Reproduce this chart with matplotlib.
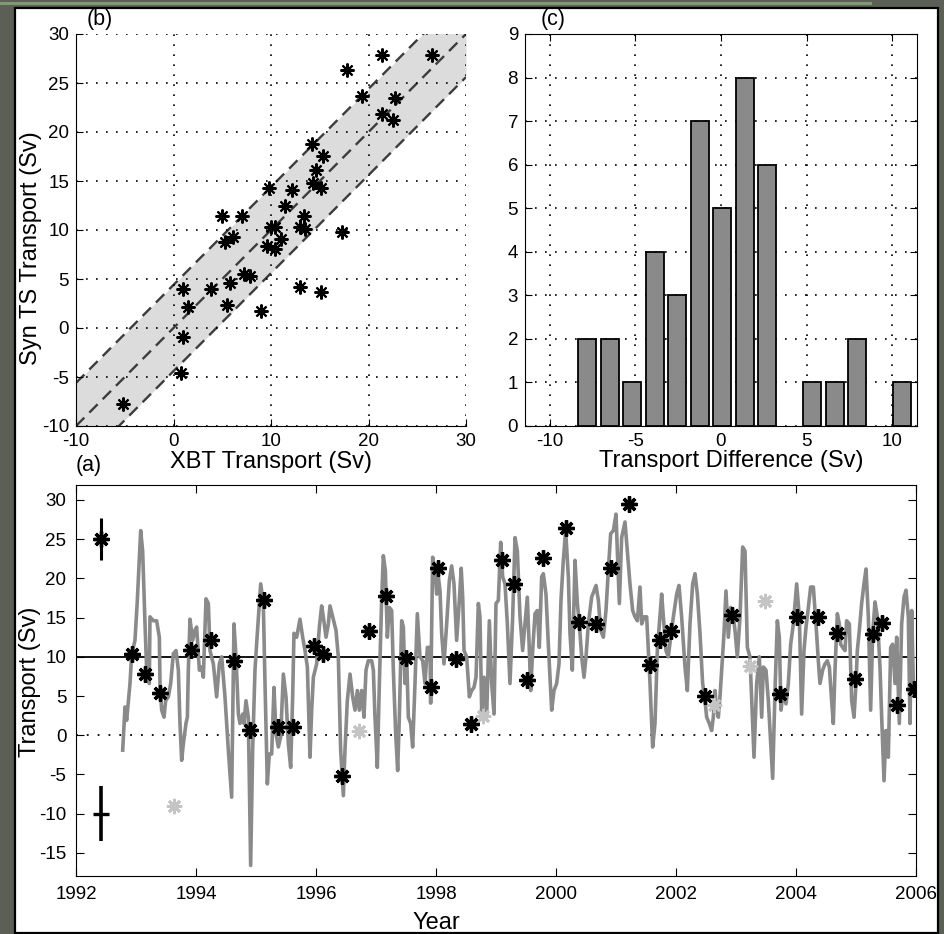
import matplotlib
matplotlib.use("Agg")
import matplotlib.pyplot as plt
from matplotlib.patches import Rectangle
from matplotlib.lines import Line2D
import numpy as np

plt.rcParams['font.family'] = ['Liberation Sans', 'DejaVu Sans']
plt.rcParams['axes.unicode_minus'] = False

# ---------------- data ----------------
# panel (b): XBT vs synthetic TS transport (Sv)
xbt = [-5.2, 0.77, 0.94, 1.45, 1.0, 3.8, 5.45, 5.8, 7.27, 7.85, 9.0, 4.97, 7.03,
       5.3, 6.14, 9.83, 9.56, 9.97, 10.4, 10.44, 11.0, 11.47, 12.2, 12.94, 13.0,
       13.4, 13.45, 14.17, 14.6, 14.34, 15.1, 15.37, 15.1, 17.3, 17.83, 19.37,
       21.35, 21.4, 22.55, 22.7, 26.55]
syn = [-7.8, -4.6, -0.9, 2.1, 4.0, 4.0, 2.3, 4.55, 5.5, 5.3, 1.75, 11.4, 11.4,
       8.75, 9.25, 14.25, 8.4, 10.3, 10.3, 8.1, 9.1, 12.5, 14.05, 4.2, 10.3,
       11.4, 10.1, 18.8, 16.1, 14.8, 14.25, 17.55, 3.7, 9.8, 26.3, 23.7,
       27.85, 21.8, 21.2, 23.5, 27.85]
band_halfwidth = 4.4

# panel (c): histogram of transport differences
bin_centers = [-7.82, -6.51, -5.19, -3.88, -2.56, -1.25, 0.07, 1.38, 2.70,
               4.01, 5.33, 6.64, 7.96, 9.27, 10.59]
counts = [2, 2, 1, 4, 3, 7, 5, 8, 6, 0, 1, 1, 2, 0, 1]

# panel (a): synthetic transport time series
ts_year = [1992.778, 1992.817, 1992.844, 1992.900, 1992.928, 1992.983, 1993.022, 1993.078,
           1993.111, 1993.150, 1993.178, 1993.222, 1993.233, 1993.289, 1993.344, 1993.389,
           1993.400, 1993.428, 1993.467, 1993.494, 1993.539, 1993.578, 1993.622, 1993.667,
           1993.706, 1993.733, 1993.761, 1993.789, 1993.833, 1993.856, 1993.872, 1993.900,
           1993.944, 1993.983, 1994.011, 1994.056, 1994.094, 1994.122, 1994.167, 1994.206,
           1994.233, 1994.289, 1994.344, 1994.389,
           1994.428, 1994.483, 1994.539, 1994.594, 1994.633, 1994.667, 1994.706, 1994.733,
           1994.778, 1994.800, 1994.833, 1994.872, 1994.911, 1994.944, 1994.983, 1995.022,
           1995.078, 1995.122, 1995.150, 1995.189, 1995.222, 1995.261, 1995.300, 1995.333,
           1995.372, 1995.411, 1995.456, 1995.500, 1995.539, 1995.578, 1995.611, 1995.633,
           1995.678, 1995.733, 1995.778, 1995.817, 1995.856, 1995.900, 1995.928, 1995.956,
           1996.011, 1996.056, 1996.094, 1996.122, 1996.167, 1996.206, 1996.233, 1996.278,
           1996.333, 1996.372, 1996.411, 1996.456,
           1996.483, 1996.522, 1996.567, 1996.611, 1996.650, 1996.689, 1996.722, 1996.761,
           1996.800, 1996.833, 1996.872, 1996.928, 1996.956, 1996.983, 1997.022, 1997.056,
           1997.094, 1997.122, 1997.156, 1997.189, 1997.222, 1997.261, 1997.289, 1997.328,
           1997.361, 1997.389, 1997.428, 1997.456, 1997.483, 1997.511, 1997.539, 1997.578,
           1997.611, 1997.650, 1997.689, 1997.733, 1997.778, 1997.817, 1997.856, 1997.900,
           1997.911, 1997.944, 1997.983, 1998.011, 1998.039, 1998.067, 1998.094, 1998.133,
           1998.178, 1998.222, 1998.261, 1998.300, 1998.344, 1998.389, 1998.420, 1998.445,
           1998.467, 1998.511, 1998.556, 1998.594, 1998.633, 1998.667, 1998.706, 1998.733,
           1998.761, 1998.800, 1998.844, 1998.889, 1998.928, 1998.967, 1999.000, 1999.039,
           1999.078, 1999.111, 1999.150, 1999.189, 1999.233, 1999.278, 1999.317, 1999.356,
           1999.400, 1999.444, 1999.483, 1999.522, 1999.556, 1999.578, 1999.611, 1999.650,
           1999.689, 1999.722, 1999.761, 1999.789, 1999.833, 1999.872, 1999.928, 1999.967,
           2000.011, 2000.050, 2000.083, 2000.122, 2000.161, 2000.206, 2000.233, 2000.272,
           2000.317, 2000.356, 2000.389, 2000.428, 2000.467,
           2000.500, 2000.539, 2000.594, 2000.667, 2000.706, 2000.744, 2000.789, 2000.833,
           2000.872, 2000.911, 2000.956, 2001.000, 2001.022, 2001.056, 2001.094, 2001.150,
           2001.189, 2001.233, 2001.278, 2001.317, 2001.356, 2001.400, 2001.428, 2001.467,
           2001.511, 2001.539, 2001.567, 2001.611, 2001.650, 2001.689, 2001.733, 2001.761,
           2001.789, 2001.833, 2001.872, 2001.911, 2001.956, 2002.011, 2002.050, 2002.094,
           2002.150, 2002.189, 2002.233, 2002.278, 2002.317, 2002.356, 2002.400, 2002.444,
           2002.483,
           2002.511, 2002.556, 2002.594, 2002.622, 2002.650, 2002.678, 2002.706, 2002.733,
           2002.761, 2002.800, 2002.833, 2002.872, 2002.911, 2002.944, 2002.983, 2003.022,
           2003.067, 2003.111, 2003.150, 2003.189, 2003.233, 2003.278, 2003.300, 2003.344,
           2003.389, 2003.428, 2003.456, 2003.500, 2003.539, 2003.578, 2003.611, 2003.650,
           2003.689, 2003.722, 2003.750, 2003.789, 2003.833, 2003.872, 2003.911, 2003.956,
           2004.011, 2004.056, 2004.094, 2004.133, 2004.167, 2004.206, 2004.244, 2004.289,
           2004.333, 2004.372, 2004.400, 2004.444, 2004.483,
           2004.522, 2004.556, 2004.594, 2004.622, 2004.650, 2004.689, 2004.722, 2004.744,
           2004.778, 2004.817, 2004.844, 2004.889, 2004.928, 2004.967, 2005.000, 2005.022,
           2005.056, 2005.094, 2005.133, 2005.167, 2005.206, 2005.244, 2005.278, 2005.317,
           2005.356, 2005.400, 2005.428, 2005.467, 2005.500, 2005.539, 2005.578, 2005.611,
           2005.650, 2005.678, 2005.722, 2005.761, 2005.800, 2005.833, 2005.872, 2005.900,
           2005.928, 2005.956]
ts_value = [-1.9, 3.6, 1.9, 6.6, 10.3, 12.1, 17.2, 26.1,
            23.5, 14.2, 8.3, 6.6, 15.1, 14.6, 14.6, 12.5,
            6.6, 3.2, 2.3, 4.4, 4.9, 6.6, 10.4, 10.8,
            8.3, 1.5, -3.2, -1.1, 1.5, 2.3, 8.3, 14.8,
            12.1, 13.4, 13.8, 8.3, 8.7, 7.4, 17.4, 16.8,
            10.8, 9.1, 4.9, 9.1,
            10.0, 4.9, -1.9, -7.9, 14.2, 10.0, 2.7, 1.5,
            2.7, 1.5, 4.4, 2.3, -16.6, -1.9, 8.3, 13.0,
            19.3, 16.8, 6.6, -6.2, -2.4, -2.4, 6.1, 0.2,
            -1.5, -0.2, 7.8, 4.9, -1.1, -4.1, 4.9, 13.0,
            12.5, 14.8, 12.5, 10.8, 8.7, -2.8, 3.2, 7.4,
            9.1, 13.8, 16.5, 15.1, 12.5, 14.2, 16.5, 15.1,
            13.4, 10.0, -1.9, -7.7,
            -1.9, 4.4, 7.8, 4.9, 3.2, 5.7, 3.2, 5.7,
            2.3, 8.3, 9.5, 9.5, 8.3, 2.3, -4.1, 6.6,
            17.2, 22.9, 21.0, 12.5, 16.3, 15.9, 8.3, 0.2,
            -4.5, 2.3, 14.6, 13.8, 6.6, 10.0, 2.3, 1.5,
            -1.5, 6.6, 15.5, 10.0, 9.5, 6.6, 11.2, 11.2,
            4.1, 22.7, 21.0, 18.0, 20.2, 18.4, 13.0, 9.1,
            14.2, 19.7, 21.6, 19.3, 12.1, 17.2, 21.3, 17.6,
            10.8, 10.0, 4.9, 5.7, 6.1, 7.4, 16.8, 15.1,
            3.2, 7.4, 2.3, 14.6, 6.6, 2.7, 16.8, 17.2,
            24.6, 20.2, 19.3, 14.2, 6.6, 15.1, 25.2, 23.5,
            15.1, 10.8, 14.2, 17.6, 10.8, 5.7, 10.8, 15.5,
            15.9, 11.2, 20.2, 20.6, 18.0, 11.6, 3.2, 5.7,
            6.6, 9.1, 17.2, 22.3, 26.1, 20.2, 13.0, 8.3,
            22.3, 16.8, 14.2, 10.0, 7.4,
            10.0, 14.2, 17.6, 19.1, 17.2, 13.4, 12.5, 15.9,
            21.0, 25.7, 26.1, 28.2, 23.5, 16.8, 25.2, 27.2,
            23.5, 19.3, 15.9, 15.1, 14.6, 18.9, 14.2, 15.1,
            15.1, 10.8, 6.6, -1.5, 1.5, 10.8, 15.1, 18.0,
            15.1, 10.8, 10.0, 12.5, 15.1, 18.0, 19.1, 15.1,
            8.7, 5.7, 14.2, 19.3, 20.6, 18.0, 13.0, 6.6,
            4.4,
            2.3, 1.5, 0.6, 2.3, 5.7, 3.2, 2.3, 4.9,
            8.3, 13.0, 18.4, 12.5, 16.3, 15.9, 13.4, 10.0,
            15.1, 24.0, 23.5, 11.2, 10.0, 1.5, -2.8, 6.6,
            10.0, 2.3, 8.7, 8.3, 4.4, -1.1, -5.5, 5.7,
            14.6, 12.5, 3.2, 5.7, 4.0, 6.6, 11.6, 14.2,
            19.3, 15.1, 2.7, 10.8, 13.8, 16.3, 18.9, 18.9,
            14.2, 9.5, 6.6, 8.3, 9.1,
            9.5, 8.7, 4.4, 1.5, 8.3, 15.5, 14.2, 11.6,
            11.2, 10.8, 14.6, 14.2, 4.4, 2.3, 6.6, 10.8,
            13.4, 16.8, 19.3, 21.2, 15.1, 3.2, 13.0, 17.0,
            15.1, 8.7, 2.3, -5.8, 0.6, -2.8, 11.2, 11.6,
            6.6, 12.5, 1.5, 14.2, 17.6, 18.5, 15.1, 1.5,
            15.9, 6.6]

# XBT transports (black stars) and excluded sections (light stars)
xbt_year = [1992.93, 1993.15, 1993.40, 1993.91, 1994.25, 1994.64, 1994.90, 1995.13,
            1995.37, 1995.61, 1995.96, 1996.11, 1996.43, 1996.89, 1997.17, 1997.50,
            1997.91, 1998.04, 1998.33, 1998.59, 1999.10, 1999.30, 1999.51, 1999.79,
            2000.16, 2000.39, 2000.66, 2000.91, 2001.21, 2001.57, 2001.73, 2001.92,
            2002.48, 2002.94, 2003.74, 2004.02, 2004.36, 2004.69, 2004.98, 2005.28,
            2005.44, 2005.69, 2005.96]
xbt_value = [10.4, 7.8, 5.4, 10.9, 12.2, 9.5, 0.7, 17.3,
             1.0, 1.0, 11.4, 10.4, -5.2, 13.35, 17.8, 9.9,
             6.1, 21.3, 9.7, 1.4, 22.4, 19.3, 7.0, 22.6,
             26.4, 14.5, 14.2, 21.3, 29.45, 8.9, 12.2, 13.3,
             4.95, 15.35, 5.25, 15.05, 15.1, 13.0, 7.15, 12.9,
             14.3, 3.85, 5.9]
excl_year = [1993.63, 1996.71, 1998.79, 2002.64, 2003.23, 2003.49]
excl_value = [-9.0, 0.6, 2.4, 3.9, 8.85, 17.1]

mean_transport = 10.0
err_year = [1992.41, 1992.41]
err_value = [25.0, -10.0]
err_half = [2.7, 3.5]

# ---------------- figure ----------------
W, H = 944, 934
fig = plt.figure(figsize=(W / 100, H / 100), dpi=100, facecolor='#5c5f56')


def fx(px):
    return px / W


def fy(py):
    return 1 - py / H


# white framed panel (behind everything)
frame = Rectangle((fx(15), fy(933)), fx(938) - fx(15), fy(8) - fy(933),
                  transform=fig.transFigure, facecolor='white',
                  edgecolor='black', lw=1.6, zorder=-20)
fig.patches.append(frame)
fig.lines.append(Line2D([0, fx(870)], [fy(3), fy(3)], transform=fig.transFigure,
                        color='#7d9a70', lw=2.2, zorder=-19))

TICK = 13.5
LAB = 17
PANEL = 15.5
dotted = (0, (1, 5))
ast = (8, 2, 0)

# ---- panel (b)
axb = fig.add_axes([fx(76), fy(426), fx(466) - fx(76), fy(34) - fy(426)])
axb.patch.set_alpha(0)
xx = np.linspace(-10, 30, 200)
axb.fill_between(xx, xx - band_halfwidth, xx + band_halfwidth, color='#dcdcdc', lw=0, zorder=1)
for off in (-band_halfwidth, 0, band_halfwidth):
    axb.plot(xx, xx + off, color='#3c3c3c', lw=1.7, ls=(0, (5, 3)), zorder=2)
axb.plot(xbt, syn, ls='none', marker=ast, ms=10, mew=1.5, color='black', zorder=4)
axb.set_xlim(-10, 30)
axb.set_ylim(-10, 30)
axb.set_xticks([-10, 0, 10, 20, 30])
axb.set_yticks(np.arange(-10, 31, 5))
axb.grid(True, color='black', ls=dotted, lw=1.2)
axb.set_axisbelow(False)
axb.spines['top'].set_visible(False)
axb.spines['right'].set_visible(False)
axb.tick_params(direction='in', labelsize=TICK, length=5, pad=5)
fig.text(fx(100), fy(20), '(b)', fontsize=PANEL, ha='center', va='center')
fig.text(fx(271), fy(462), 'XBT Transport (Sv)', fontsize=LAB, ha='center', va='center')
fig.text(fx(31), fy(248), 'Syn TS Transport (Sv)', fontsize=LAB, ha='center', va='center',
         rotation=90)

# ---- panel (c)
axc = fig.add_axes([fx(525), fy(426), fx(917) - fx(525), fy(34) - fy(426)])
axc.patch.set_alpha(0)
step = bin_centers[1] - bin_centers[0]
edge_cols = ['black' if c > 0 else 'none' for c in counts]
axc.bar(bin_centers, counts, width=0.8 * step, color='#8a8a8a', edgecolor=edge_cols,
        lw=1.3, zorder=3)
axc.set_xlim(-11.46, 11.46)
axc.set_ylim(0, 9)
axc.set_xticks([-10, -5, 0, 5, 10])
axc.set_yticks(range(0, 10))
axc.grid(True, color='black', ls=dotted, lw=1.2, zorder=1)
axc.set_axisbelow(True)
axc.tick_params(direction='in', labelsize=TICK, length=5, pad=5, top=True, right=True)
fig.text(fx(553), fy(19), '(c)', fontsize=PANEL, ha='center', va='center')
fig.text(fx(731), fy(461), 'Transport Difference (Sv)', fontsize=LAB, ha='center',
         va='center')

# ---- panel (a)
axa = fig.add_axes([fx(76), fy(876), fx(916) - fx(76), fy(484.7) - fy(876)])
axa.patch.set_alpha(0)
axa.axhline(0, xmin=0, xmax=0.983, color='black', ls=dotted, lw=1.3, zorder=1)
axa.axhline(mean_transport, xmin=0, xmax=0.997, color='black', lw=1.3, zorder=2)
axa.plot(ts_year, ts_value, color='#8a8a8a', lw=2.6, zorder=3)
axa.plot(excl_year, excl_value, ls='none', marker=ast, ms=11, mew=2.0, color='#c4c4c4',
         zorder=4)
axa.plot(xbt_year, xbt_value, ls='none', marker=ast, ms=11.5, mew=2.4, color='black', zorder=5)
axa.errorbar(err_year[:1], err_value[:1], yerr=err_half[:1], fmt='none', ecolor='black',
             elinewidth=2.2, capsize=0, zorder=5)
axa.plot(err_year[:1], err_value[:1], ls='none', marker=ast, ms=11.5, mew=2.4, color='black',
         zorder=6)
axa.errorbar(err_year[1:], err_value[1:], yerr=err_half[1:], fmt='none', ecolor='black',
             elinewidth=2.6, capsize=0, zorder=5)
axa.plot(err_year[1:], err_value[1:], ls='none', marker='_', ms=12, mew=2.4, color='black',
         zorder=6)
axa.set_xlim(1992, 2006)
axa.set_ylim(-17.95, 31.95)
axa.set_xticks(range(1992, 2007, 2))
axa.set_yticks(range(-15, 31, 5))
axa.tick_params(direction='in', labelsize=TICK, length=6, pad=7, top=True, right=True)
fig.text(fx(89), fy(466), '(a)', fontsize=PANEL, ha='center', va='center')
fig.text(fx(30), fy(682), 'Transport (Sv)', fontsize=LAB, ha='center', va='center',
         rotation=90)
fig.text(fx(436), fy(923), 'Year', fontsize=LAB, ha='center', va='center')

fig.savefig('out.png', dpi=100, facecolor=fig.get_facecolor())
